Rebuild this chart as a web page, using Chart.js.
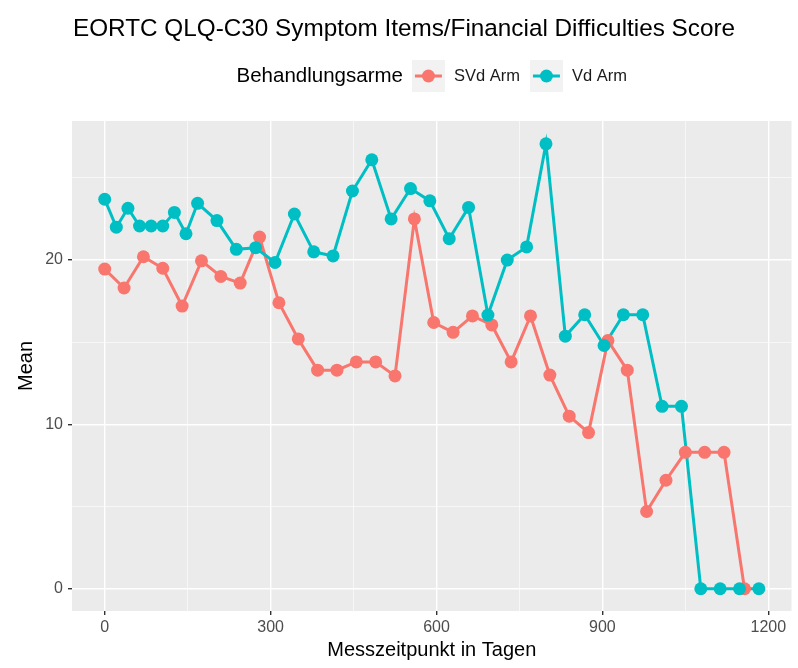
<!DOCTYPE html>
<html>
<head>
<meta charset="utf-8">
<script src="https://cdn.jsdelivr.net/npm/chart.js@4/dist/chart.umd.min.js"></script>
<style>
html,body{margin:0;padding:0;background:#fff;}
#wrap{width:798px;height:668px;position:relative;}
</style>
</head>
<body>
<div id="wrap"><canvas id="c" width="798" height="668"></canvas></div>
<script>
const chartTitle = "EORTC QLQ-C30 Symptom Items/Financial Difficulties Score";
const legendTitle = "Behandlungsarme";
const seriesNames = ["SVd Arm", "Vd Arm"];
const xTitle = "Messzeitpunkt in Tagen";
const yTitle = "Mean";

const svdDays = [0,35,70,105,140,175,210,245,280,315,350,385,420,455,490,525,560,595,630,665,700,735,770,805,840,875,910,945,980,1015,1050,1085,1120,1157];
const svdMean = [19.45,18.3,20.2,19.5,17.2,19.95,19.0,18.6,21.4,17.4,15.2,13.3,13.3,13.8,13.8,12.95,22.5,16.2,15.6,16.6,16.05,13.8,16.6,13.0,10.5,9.5,15.1,13.3,4.7,6.6,8.3,8.3,8.3,0];

const vdDays = [0,21,42,63,84,105,126,147,168,203,238,273,308,343,378,413,448,483,518,553,588,623,658,693,728,763,798,833,868,903,938,973,1008,1043,1078,1113,1148,1183];
const vdMean = [23.7,22.0,23.15,22.07,22.07,22.07,22.9,21.6,23.45,22.4,20.65,20.75,19.85,22.8,20.5,20.25,24.2,26.1,22.5,24.35,23.6,21.3,23.2,16.65,20.0,20.8,27.07,15.37,16.67,14.8,16.67,16.67,11.1,11.1,0,0,0,0];

const xTicks = [0,150,300,450,600,750,900,1050,1200];
const xMajor = [0,300,600,900,1200];
const yTicks = [0,5,10,15,20,25];
const yMajor = [0,10,20];

const COLORS = ["#F8766D", "#00BFC4"];
const FONT = "'Liberation Sans', Arial, sans-serif";

const panelBg = {
  id: 'panelBg',
  beforeDraw(chart) {
    const {ctx, chartArea: a} = chart;
    ctx.save();
    ctx.fillStyle = '#EBEBEB';
    ctx.fillRect(a.left, a.top, a.right - a.left, a.bottom - a.top);
    ctx.restore();
  },
  afterDraw(chart) {
    const {ctx, chartArea: a} = chart;
    ctx.save();
    ctx.fillStyle = '#000';
    ctx.font = "24.3px " + FONT;
    ctx.textBaseline = 'middle';
    ctx.textAlign = 'left';
    ctx.fillText(chartTitle, a.left + 1, 29);
    const cy = 76;
    const ltFont = "20.5px " + FONT, lbFont = "16.5px " + FONT;
    ctx.font = ltFont;
    const ltW = ctx.measureText(legendTitle).width;
    ctx.font = lbFont;
    const lw = seriesNames.map(s => ctx.measureText(s).width);
    const keyW = 33, gapT = 9, gapK = 9, gapI = 10;
    const total = ltW + gapT + keyW + gapK + lw[0] + gapI + keyW + gapK + lw[1];
    let x = (a.left + a.right) / 2 - total / 2;
    ctx.font = ltFont;
    ctx.fillStyle = '#000';
    ctx.fillText(legendTitle, x, cy);
    x += ltW + gapT;
    for (let i = 0; i < 2; i++) {
      ctx.fillStyle = '#F2F2F2';
      ctx.fillRect(x, cy - 16, keyW, 32);
      ctx.strokeStyle = COLORS[i];
      ctx.lineWidth = 3;
      ctx.beginPath();
      ctx.moveTo(x + 3, cy); ctx.lineTo(x + keyW - 3, cy); ctx.stroke();
      ctx.fillStyle = COLORS[i];
      ctx.beginPath(); ctx.arc(x + keyW / 2, cy, 6.5, 0, Math.PI * 2); ctx.fill();
      x += keyW + gapK;
      ctx.font = lbFont;
      ctx.fillStyle = '#1A1A1A';
      ctx.fillText(seriesNames[i], x, cy);
      x += lw[i] + gapI;
    }
    ctx.restore();
  }
};

function lineDs(label, days, vals, color, order) {
  return {
    label: label,
    data: days.map((d, i) => ({x: d, y: vals[i]})),
    borderColor: color,
    backgroundColor: color,
    pointRadius: 0,
    pointHoverRadius: 0,
    borderWidth: 3,
    tension: 0,
    fill: false,
    order: order
  };
}
function pointDs(label, days, vals, color, order) {
  return {
    label: label,
    data: days.map((d, i) => ({x: d, y: vals[i]})),
    showLine: false,
    borderColor: color,
    backgroundColor: color,
    pointBackgroundColor: color,
    pointBorderColor: color,
    pointRadius: 6.5,
    pointHoverRadius: 6.5,
    pointBorderWidth: 0,
    fill: false,
    order: order
  };
}

new Chart(document.getElementById('c'), {
  type: 'line',
  data: {
    datasets: [
      lineDs(seriesNames[0], svdDays, svdMean, COLORS[0], 3),
      lineDs(seriesNames[1], vdDays, vdMean, COLORS[1], 2),
      pointDs(seriesNames[0], svdDays, svdMean, COLORS[0], 1),
      pointDs(seriesNames[1], vdDays, vdMean, COLORS[1], 0)
    ]
  },
  options: {
    responsive: false,
    animation: false,
    layout: {padding: {top: 121, right: 6, left: 0, bottom: 0}},
    plugins: {legend: {display: false}, title: {display: false}, tooltip: {enabled: false}},
    scales: {
      x: {
        type: 'linear',
        min: -59.15,
        max: 1242,
        afterBuildTicks: s => { s.ticks = xTicks.map(v => ({value: v})); },
        afterFit: s => { s.height = 57; },
        border: {display: false},
        grid: {
          color: '#FFFFFF',
          lineWidth: c => xMajor.includes(c.tick.value) ? 1.4 : 0.6,
          tickColor: c => xMajor.includes(c.tick.value) ? '#333333' : 'rgba(0,0,0,0)',
          tickLength: 4,
          drawTicks: true
        },
        ticks: {
          autoSkip: false,
          maxRotation: 0,
          padding: 3,
          color: '#4D4D4D',
          font: {family: FONT, size: 16},
          callback: v => xMajor.includes(v) ? String(v) : ''
        },
        title: {display: true, text: xTitle, color: '#000', font: {family: FONT, size: 20}, padding: {top: 0, bottom: 6}}
      },
      y: {
        type: 'linear',
        min: -1.355,
        max: 28.46,
        afterBuildTicks: s => { s.ticks = yTicks.map(v => ({value: v})); },
        afterFit: s => { s.width = 72; },
        border: {display: false},
        grid: {
          color: '#FFFFFF',
          lineWidth: c => yMajor.includes(c.tick.value) ? 1.4 : 0.6,
          tickColor: c => yMajor.includes(c.tick.value) ? '#333333' : 'rgba(0,0,0,0)',
          tickLength: 4,
          drawTicks: true
        },
        ticks: {
          autoSkip: false,
          padding: 5,
          color: '#4D4D4D',
          font: {family: FONT, size: 16},
          callback: v => yMajor.includes(v) ? String(v) : ''
        },
        title: {display: true, text: yTitle, color: '#000', font: {family: FONT, size: 20}, padding: {top: 14, bottom: 0}}
      }
    }
  },
  plugins: [panelBg]
});
</script>
</body>
</html>
